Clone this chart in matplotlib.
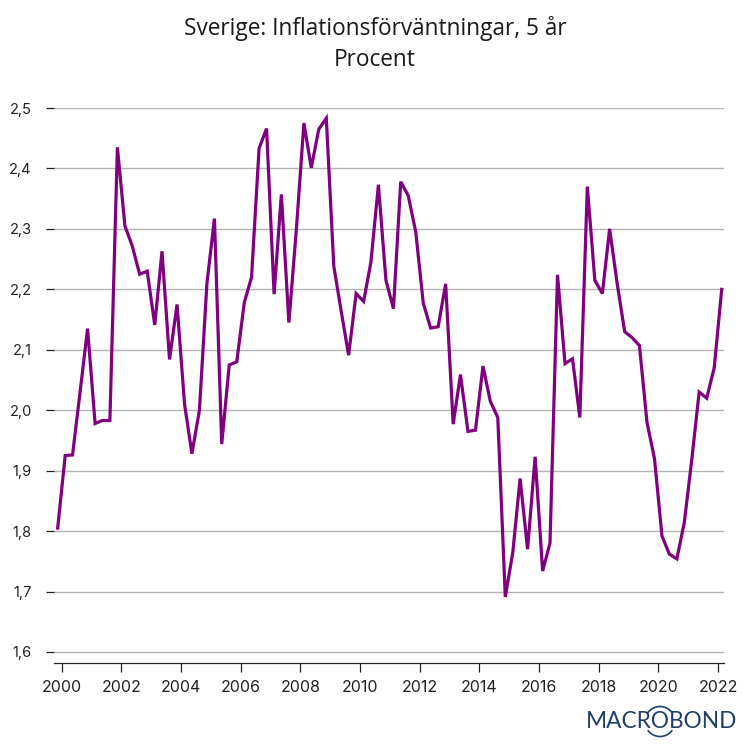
"""Sverige: Inflationsförväntningar, 5 år (Macrobond style line chart)."""

import matplotlib
matplotlib.use("Agg")
import matplotlib.dates as mdates
import matplotlib.pyplot as plt
import pandas as pd
from matplotlib.patches import Arc

# Quarterly readings, first one plotted mid Nov 1999
values = [
    1.805, 1.925, 1.926, 2.03, 2.135, 1.978, 1.983, 1.983, 2.435, 2.305,
    2.272, 2.225, 2.23, 2.141, 2.263, 2.084, 2.175, 2.01, 1.928, 2.0,
    2.21, 2.317, 1.944, 2.075, 2.08, 2.178, 2.22, 2.433, 2.466, 2.192,
    2.357, 2.145, 2.3, 2.475, 2.401, 2.465, 2.483, 2.238, 2.165, 2.091,
    2.193, 2.18, 2.245, 2.373, 2.215, 2.168, 2.378, 2.355, 2.295, 2.177,
    2.136, 2.138, 2.209, 1.977, 2.059, 1.965, 1.967, 2.073, 2.015, 1.988,
    1.691, 1.765, 1.887, 1.77, 1.923, 1.734, 1.78, 2.224, 2.077, 2.085,
    1.988, 2.37, 2.215, 2.193, 2.3, 2.21, 2.13, 2.12, 2.107, 1.98,
    1.92, 1.792, 1.762, 1.754, 1.815, 1.92, 2.03, 2.02, 2.07, 2.2,
]
y_ticks = [1.6, 1.7, 1.8, 1.9, 2.0, 2.1, 2.2, 2.3, 2.4, 2.5]
x_years = list(range(2000, 2023, 2))
title = "Sverige: Inflationsförväntningar, 5 år\nProcent"

LINE_COLOR = "#800080"
GRID_COLOR = "#b4b4b4"
AXIS_COLOR = "#222222"
LOGO_COLOR = "#1f3f68"

plt.rcParams["font.family"] = ["Inter", "DejaVu Sans"]

dates = pd.date_range("1999-11-15", periods=len(values), freq=pd.DateOffset(months=3))

fig = plt.figure(figsize=(7.5, 7.5), dpi=100, facecolor="white")
ax = fig.add_axes([54 / 750, (750 - 663) / 750, 670 / 750, (663 - 108) / 750])

ax.plot(dates, values, color=LINE_COLOR, linewidth=2.3, solid_joinstyle="miter", zorder=3)

ax.set_xlim(pd.Timestamp("1999-10-01"), pd.Timestamp("2022-03-15"))
ax.set_ylim(1.5818, 2.5)

ax.set_yticks(y_ticks)
ax.set_yticklabels([f"{v:.1f}".replace(".", ",") for v in y_ticks], fontsize=10.5, color=AXIS_COLOR)
ax.set_xticks([pd.Timestamp(f"{y}-01-01") for y in x_years])
ax.xaxis.set_major_formatter(mdates.DateFormatter("%Y"))
ax.tick_params(axis="x", length=6.5, width=0.9, color=AXIS_COLOR, labelcolor=AXIS_COLOR,
               labelsize=11.5, pad=6)
ax.tick_params(axis="y", length=6, width=0.9, color=AXIS_COLOR, pad=10)

ax.grid(True, axis="y", color=GRID_COLOR, linewidth=1.0, zorder=1)
ax.set_axisbelow(True)
for side in ("top", "left", "right"):
    ax.spines[side].set_visible(False)
ax.spines["bottom"].set_color(AXIS_COLOR)
ax.spines["bottom"].set_linewidth(0.9)

fig.text(0.5, 1 - 44 / 750, title, ha="center", va="center", fontsize=16.3,
         color="#1a1a1a", linespacing=1.38, family=["Open Sans", "DejaVu Sans"])

# Logo, in pixel coordinates
logo = fig.add_axes([0, 0, 1, 1], facecolor="none")
logo.set_xlim(0, 750)
logo.set_ylim(750, 0)
logo.axis("off")
logo.text(661.5, 721.5, "MACROBOND", ha="center", va="center", fontsize=16.3,
          color=LOGO_COLOR, family=["Lato", "DejaVu Sans"])
logo.add_patch(Arc((660, 721.5), 30, 30, theta1=215, theta2=325, color=LOGO_COLOR, linewidth=1.2))
logo.add_patch(Arc((660, 721.5), 30, 30, theta1=35, theta2=145, color=LOGO_COLOR, linewidth=1.2))

fig.savefig("out.png", dpi=100, facecolor="white")
